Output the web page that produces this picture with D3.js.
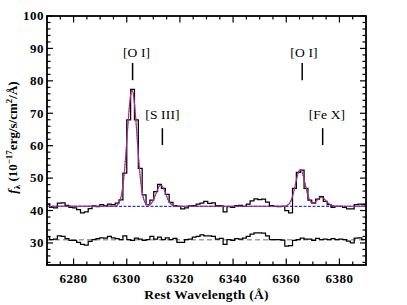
<!DOCTYPE html>
<html><head><meta charset="utf-8">
<script src="https://cdn.jsdelivr.net/npm/d3@7"></script>
<style>html,body{margin:0;padding:0;background:#fff;} svg{display:block;}</style>
</head><body>
<svg id="c" width="407" height="305"></svg>
<script>
// ---- data ----
const wave = [6270.28,6271.73,6273.18,6274.63,6276.08,6277.53,6278.98,6280.43,6281.88,6283.33,
  6284.78,6286.23,6287.68,6289.13,6290.58,6292.03,6293.48,6294.93,6296.38,6297.83,
  6299.28,6300.73,6302.18,6303.63,6305.08,6306.53,6307.98,6309.43,6310.88,6312.33,
  6313.78,6315.23,6316.68,6318.13,6319.58,6321.03,6322.48,6323.93,6325.38,6326.83,
  6328.28,6329.73,6331.18,6332.63,6334.08,6335.53,6336.98,6338.43,6339.88,6341.33,
  6342.78,6344.23,6345.68,6347.13,6348.58,6350.03,6351.48,6352.93,6354.38,6355.83,
  6357.28,6358.73,6360.18,6361.63,6363.08,6364.53,6365.98,6367.43,6368.88,6370.33,
  6371.78,6373.23,6374.68,6376.13,6377.58,6379.03,6380.48,6381.93,6383.38,6384.83,
  6386.28,6387.73,6389.18,6390.63];
const fluxObs = [42.0,41.0,40.8,42.3,42.4,41.6,41.0,40.8,40.3,39.3,
  39.6,40.6,41.4,41.2,41.8,41.5,42.0,41.8,42.3,43.3,
  51.5,68.0,77.4,68.0,53.0,44.8,41.8,43.2,45.8,48.1,
  46.8,45.0,42.5,41.5,41.3,40.5,40.8,41.4,41.5,42.0,
  42.3,42.8,42.2,42.4,41.5,41.4,39.6,41.2,41.0,41.5,
  41.6,41.3,42.0,43.0,43.6,43.4,43.5,42.6,41.5,41.3,
  41.2,41.3,40.0,39.3,46.8,51.8,52.5,46.8,43.2,42.3,
  43.5,44.3,42.8,41.8,41.0,41.3,41.3,41.0,40.5,40.5,
  41.8,42.0,41.8,41.5];
const fluxResid = [31.9,31.0,31.2,32.2,32.0,31.3,30.8,30.8,30.2,29.6,
  29.3,30.5,31.0,31.3,31.6,31.5,32.0,31.6,31.3,31.0,
  32.2,31.0,30.8,31.5,31.2,30.8,31.0,32.0,31.2,31.8,
  31.0,31.6,31.0,31.4,30.2,30.2,31.0,31.2,31.8,32.0,
  32.5,32.2,32.2,32.0,31.2,31.4,29.6,31.0,30.8,31.3,
  31.2,31.5,32.0,32.7,33.1,33.1,33.0,32.2,31.0,31.0,
  31.0,30.9,29.0,29.2,30.8,31.0,31.5,31.2,31.2,30.8,
  31.4,31.0,31.2,31.0,31.3,31.0,31.2,31.0,30.6,30.0,
  31.5,31.6,31.0,31.3];
const modelWave = [6270,6295,6296,6297,6297.5,6298,6298.5,6299,6299.5,6300,6300.5,6301,6301.5,6302,
  6302.5,6303,6303.5,6304,6304.5,6305,6305.5,6306,6306.5,6307,6307.5,6308,6308.5,6309,6309.5,
  6310,6310.5,6311,6311.5,6312,6312.5,6312.8,6313.5,6314,6314.5,6315,6315.5,6316,6316.5,6317,
  6318,6319,6359,6360,6360.5,6361,6361.5,6362,6362.5,6363,6363.5,6364,6364.5,6365,6365.3,6365.5,
  6366,6366.5,6367,6367.5,6368,6368.5,6369,6369.5,6370,6370.5,6371,6371.5,6372,6372.5,6373.2,
  6373.5,6374,6374.5,6375,6375.5,6376,6376.5,6377,6378,6379,6390];
const modelFlux = [41.3,41.35,41.5,42.2,43.2,44.8,47.3,50.9,55.7,61.3,67.1,72.2,75.8,77.1,
  75.8,72.2,67.1,61.3,55.7,50.9,47.3,44.8,43.2,42.3,41.9,41.7,41.8,42.0,42.5,
  43.2,44.2,45.2,46.3,47.2,47.7,47.8,47.3,46.5,45.5,44.4,43.4,42.6,42.1,41.7,
  41.4,41.3,41.3,41.5,41.7,42.0,42.6,43.5,44.8,46.4,48.3,50.1,51.6,52.45,52.6,52.5,
  51.8,50.4,48.65,46.8,45.1,43.85,42.95,42.45,42.3,42.4,42.7,43.1,43.54,43.9,44.1,
  44.05,43.84,43.46,43.0,42.54,42.13,41.82,41.6,41.4,41.3,41.3];
const continuumLevel = 41.3;
const residLevel = 31.0;
const xTickLabels = [6280,6300,6320,6340,6360,6380];
const yTickLabels = [30,40,50,60,70,80,90,100];
const lineNames = ["[O I]","[S III]","[O I]","[Fe X]"];
const lineWave  = [6302.2,6313.4,6366.0,6373.7];
const labelWave = [6303.7,6313.45,6366.7,6375.3];
const lineRow   = [0,1,0,1];

// ---- layout ----
const L = 47, R = 366, T = 16, B = 265;
const svg = d3.select("#c");
const x = d3.scaleLinear().domain([6270, 6390]).range([L, R]);
const y = d3.scaleLinear().domain([23.2, 100]).range([B, T]);
const serif = "'Liberation Serif', 'DejaVu Serif', serif";

svg.append("defs").append("clipPath").attr("id","clip")
  .append("rect").attr("x",L).attr("y",T).attr("width",R-L).attr("height",B-T);
const g = svg.append("g").attr("clip-path","url(#clip)");

g.append("line").attr("x1",x(6270)).attr("x2",x(6390))
  .attr("y1",y(residLevel)).attr("y2",y(residLevel))
  .attr("stroke","#a0a0a0").attr("stroke-width",1.5).attr("stroke-dasharray","5,3");

const step = d3.line().x((d,i)=>x(wave[i])).y(d=>y(d)).curve(d3.curveStep);
g.append("path").attr("d",step(fluxResid)).attr("fill","none")
  .attr("stroke","#000").attr("stroke-width",1.25);

g.append("line").attr("x1",x(6270)).attr("x2",x(6390))
  .attr("y1",y(continuumLevel)).attr("y2",y(continuumLevel))
  .attr("stroke","#0000ff").attr("stroke-width",1).attr("stroke-dasharray","3,1.5");

g.append("path").attr("d",step(fluxObs)).attr("fill","none")
  .attr("stroke","#000").attr("stroke-width",1.25);

const mline = d3.line().x((d,i)=>x(modelWave[i])).y(d=>y(d)).curve(d3.curveMonotoneX);
g.append("path").attr("d",mline(modelFlux)).attr("fill","none")
  .attr("stroke","#7a3ad0").attr("stroke-width",1.1);
g.append("path").attr("d",mline(modelFlux)).attr("fill","none")
  .attr("stroke","#ff1010").attr("stroke-width",1.1).attr("stroke-dasharray","1,1.8");

// ---- axes (ticks inside, all four sides) ----
const ax = svg.append("g").attr("stroke","#000");
const xMinor = d3.range(6270, 6391, 5);
const yMinor = d3.range(24, 101, 2);
xMinor.forEach(v=>{
  const major = v % 20 === 0;
  const len = major ? 6.5 : 3.5;
  ax.append("line").attr("x1",x(v)).attr("x2",x(v)).attr("y1",B).attr("y2",B-len).attr("stroke-width",1.2);
  ax.append("line").attr("x1",x(v)).attr("x2",x(v)).attr("y1",T).attr("y2",T+len).attr("stroke-width",1.2);
});
yMinor.forEach(v=>{
  const major = v % 10 === 0;
  const len = major ? 6 : 3.5;
  ax.append("line").attr("y1",y(v)).attr("y2",y(v)).attr("x1",L).attr("x2",L+len).attr("stroke-width",1.2);
  ax.append("line").attr("y1",y(v)).attr("y2",y(v)).attr("x1",R).attr("x2",R-len).attr("stroke-width",1.2);
});
svg.append("rect").attr("x",L).attr("y",T).attr("width",R-L).attr("height",B-T)
  .attr("fill","none").attr("stroke","#000").attr("stroke-width",1.8);

svg.append("g").selectAll("text").data(xTickLabels).join("text")
  .attr("x",d=>x(d)).attr("y",283).attr("text-anchor","middle")
  .attr("font-family",serif).attr("font-weight","bold").attr("font-size",13)
  .attr("letter-spacing",0.5).text(d=>d);
svg.append("g").selectAll("text").data(yTickLabels).join("text")
  .attr("x",44).attr("y",d=>y(d)+4.3).attr("text-anchor","end")
  .attr("font-family",serif).attr("font-weight","bold").attr("font-size",13)
  .attr("letter-spacing",0.5).text(d=>d);

svg.append("text").attr("x",(L+R)/2).attr("y",299).attr("text-anchor","middle")
  .attr("font-family",serif).attr("font-weight","bold").attr("font-size",13.5)
  .attr("letter-spacing",0.3).text("Rest Wavelength (Å)");

const yl = svg.append("text").attr("transform",`translate(17,${(T+B)/2-3}) rotate(-90)`)
  .attr("text-anchor","middle").attr("font-family",serif).attr("font-weight","bold").attr("font-size",13);
yl.append("tspan").attr("font-style","italic").text("f");
yl.append("tspan").attr("font-size",9).attr("dy",3).text("λ");
yl.append("tspan").attr("dy",-3).text(" (10");
yl.append("tspan").attr("font-size",9).attr("dy",-5).text("−17");
yl.append("tspan").attr("dy",5).text("erg/s/cm");
yl.append("tspan").attr("font-size",9).attr("dy",-5).text("2");
yl.append("tspan").attr("dy",5).text("/Å)");

// ---- line annotations ----
const rows = [{text:87.3, top:85.5, bot:80.2},{text:68.2, top:65.4, bot:60.2}];
lineNames.forEach((n,i)=>{
  const r = rows[lineRow[i]];
  svg.append("text").attr("x",x(labelWave[i])).attr("y",y(r.text)).attr("text-anchor","middle")
    .attr("font-family",serif).attr("font-size",13.5).attr("letter-spacing",0.15).text(n);
  svg.append("line").attr("x1",x(lineWave[i])).attr("x2",x(lineWave[i]))
    .attr("y1",y(r.top)).attr("y2",y(r.bot)).attr("stroke","#000").attr("stroke-width",1.5);
});
</script>
</body></html>
